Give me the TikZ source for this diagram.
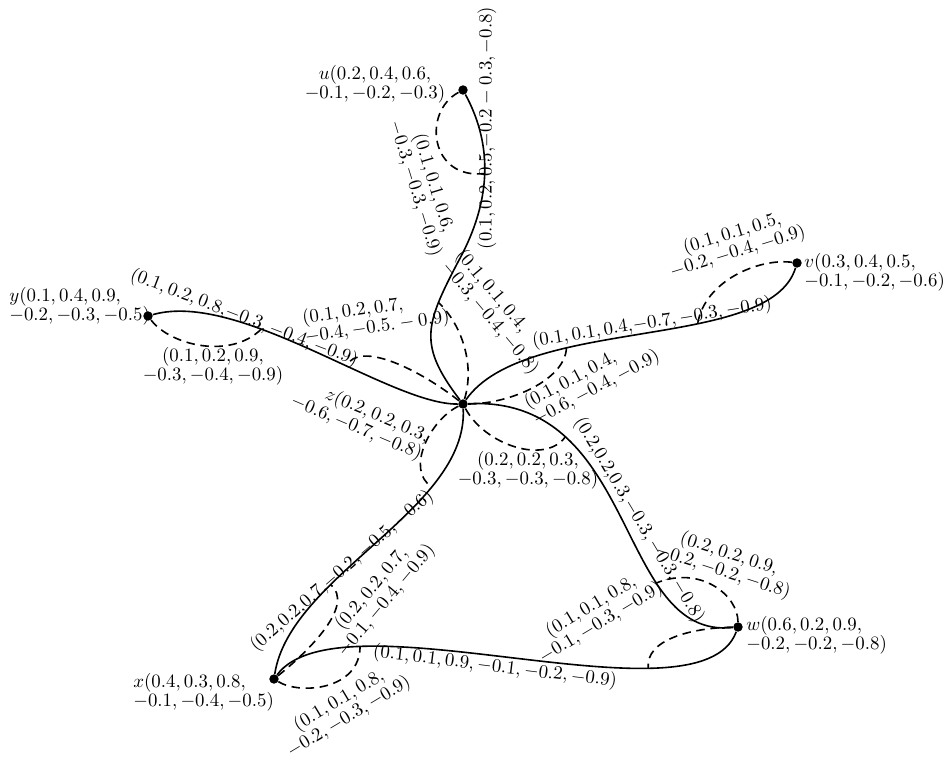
\documentclass[tikz,border=0pt]{standalone}
\usepackage{amsmath}
\begin{document}
\begin{tikzpicture}[
  x=0.53pt, y=-0.53pt,
  vtx/.style={circle, fill, inner sep=0pt, minimum size=5pt},
  lbl/.style={inner sep=0pt, align=center, font={\fontsize{10}{10}\selectfont\lineskiplimit=-20pt}},
  lbll/.style={lbl, align=left},
  solidln/.style={line width=0.85pt},
  dashln/.style={line width=0.85pt, dash pattern=on 4.5pt off 3pt}
]
\useasboundingbox (0,0) rectangle (945,765);

\node[vtx] (u) at (463,90) {};
\node[vtx] (v) at (797,263) {};
\node[vtx] (y) at (148,316) {};
\node[vtx] (z) at (463,404) {};
\node[vtx] (w) at (738,627) {};
\node[vtx] (x) at (274,679) {};

\node[lbl] (ulab) at (375,84) {$u(0.2, 0.4, 0.6,$\\$-0.1, -0.2, -0.3)$};
\node[lbll, anchor=west] (vlab) at (804,272) {$v(0.3, 0.4, 0.5,$\\$-0.1, -0.2, -0.6)$};
\node[lbll, anchor=west] (ylab) at (9,306) {$y(0.1, 0.4, 0.9,$\\$-0.2, -0.3, -0.5)$};
\node[lbll, anchor=west] (wlab) at (746,635) {$w(0.6, 0.2, 0.9,$\\$-0.2, -0.2, -0.8)$};
\node[lbll, anchor=west] (xlab) at (133,692) {$x(0.4, 0.3, 0.8,$\\$-0.1, -0.4, -0.5)$};
\node[lbl, align=right, rotate=-23] (zlab) at (360,419) {$z(0.2, 0.2, 0.3,$\\$-0.6, -0.7, -0.8)$};

\draw[solidln] (u) .. controls (490,140) and (495,195) .. (458,262) coordinate[pos=.52] (uz1)
  .. controls (425,325) and (418,345) .. (z) coordinate[pos=.25] (uz2);
\draw[solidln] (z) .. controls (525,315) and (770,352) .. (v) coordinate[pos=.32] (zv1) coordinate[pos=.63] (zv2);
\draw[solidln] (y) .. controls (240,290) and (390,405) .. (z) coordinate[pos=.35] (yz1) coordinate[pos=.6] (yz2);
\draw[solidln] (z) .. controls (640,395) and (615,640) .. (w) coordinate[pos=.25] (zw1) coordinate[pos=.7] (zw2);
\draw[solidln] (x) .. controls (290,575) and (468,510) .. (z) coordinate[pos=.33] (xz1) coordinate[pos=.72] (xz2);
\draw[solidln] (x) .. controls (340,590) and (700,730) .. (w) coordinate[pos=.23] (xw1) coordinate[pos=.73] (xw2);

\draw[dashln] (u) .. controls (422,112) and (430,180) .. (uz1);
\draw[dashln] (z) .. controls (475,365) and (462,325) .. (uz2);
\draw[dashln] (z) .. controls (420,370) and (360,340) .. (yz2);
\draw[dashln] (z) .. controls (430,420) and (405,470) .. (xz2);
\draw[dashln] (z) .. controls (485,445) and (545,465) .. (zw1);
\draw[dashln] (z) .. controls (510,404) and (565,380) .. (zv1);
\draw[dashln] (v) .. controls (760,258) and (705,280) .. (zv2);
\draw[dashln] (y) .. controls (170,345) and (230,360) .. (yz1);
\draw[dashln] (w) .. controls (738,595) and (700,565) .. (zw2);
\draw[dashln] (w) .. controls (690,628) and (645,640) .. (xw2);
\draw[dashln] (x) .. controls (310,650) and (355,605) .. (xz1);
\draw[dashln] (x) .. controls (300,695) and (360,690) .. (xw1);

\node[lbl, rotate=90] (uzlab) at (487,128) {$(0.1, 0.2, 0.5{,}{-}0.2 - 0.3, -0.8)$};
\node[lbl, rotate=9] (zvlab) at (652,323) {$(0.1, 0.1, 0.4{,}{-}0.7, -0.3, -0.9)$};
\node[lbl, rotate=-21] (yzlab) at (244,318) {$(0.1, 0.2, 0.8{,}{-}0.3, -0.4, -0.9)$};
\node[lbl, rotate=-59] (zwlab) at (639,520) {$(0.2{,}0.2{,}0.3{,}{-}0.3, -0.3, -0.8)$};
\node[lbl, rotate=41] (xzlab) at (342,571) {$(0.2{,}0.2{,}0.7{,}{-}0.2, -0.5, -0.6)$};
\node[lbl, rotate=-7] (xwlab) at (495,667) {$(0.1, 0.1, 0.9, -0.1, -0.2, -0.9)$};

\node[lbl, rotate=-73] (ulooplab) at (424,186) {$(0.1, 0.1, 0.6,$\\$-0.3, -0.3, -0.9)$};
\node[lbll, rotate=-50] (zuzlab) at (497,312) {$(0.1, 0.1, 0.4,$\\$-0.3, -0.4, -0.8)$};
\node[lbll, rotate=8] (zyzlab) at (376,318) {$(0.1, 0.2, 0.7,$\\$-0.4, -0.5. - 0.9)$};
\node[lbl] (zzwlab) at (528,470) {$(0.2, 0.2, 0.3,$\\$-0.3, -0.3, -0.8)$};
\node[lbll, rotate=28] (zzvlab) at (592,380) {$(0.1, 0.1, 0.4,$\\$-0.6, -0.4, -0.9)$};
\node[lbl, rotate=17] (vdlab) at (735,243) {$(0.1, 0.1, 0.5,$\\$-0.2, -0.4, -0.9)$};
\node[lbl] (ydlab) at (213,366) {$(0.1, 0.2, 0.9,$\\$-0.3, -0.4, -0.9)$};
\node[lbl, rotate=-18] (wulab) at (726,563) {$(0.2, 0.2, 0.9,$\\$-0.2, -0.2, -0.8)$};
\node[lbl, rotate=31] (wdlab) at (596,615) {$(0.1, 0.1, 0.8,$\\$-0.1, -0.3, -0.9)$};
\node[lbl, rotate=50] (xulab) at (379,595) {$(0.2, 0.2, 0.7,$\\$-0.1, -0.4, -0.9)$};
\node[lbl, rotate=31] (xdlab) at (344,709) {$(0.1, 0.1, 0.8,$\\$-0.2, -0.3, -0.9)$};
\end{tikzpicture}
\end{document}
